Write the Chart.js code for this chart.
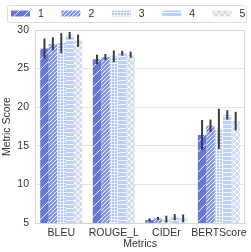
<!DOCTYPE html>
<html><head><meta charset="utf-8">
<script src="https://cdn.jsdelivr.net/npm/chart.js@4"></script>
<style>html,body{margin:0;padding:0;background:#fff}#wrap{width:251px;height:252px}</style>
</head><body><div id="wrap"><canvas id="c" width="251" height="252"></canvas></div>
<script>
const categories = ["BLEU", "ROUGE_L", "CIDEr", "BERTScore"];
const seriesNames = ["1", "2", "3", "4", "5"];
const s1 = [27.6, 26.2, 5.4, 16.4];
const s2 = [28.2, 26.5, 5.6, 17.6];
const s3 = [28.3, 26.6, 5.5, 17.2];
const s4 = [29.3, 27.0, 5.75, 19.0];
const s5 = [28.6, 26.8, 5.6, 18.2];
const e1 = [1.3, 0.6, 0.2, 1.95];
const e2 = [0.85, 0.4, 0.2, 0.8];
const e3 = [1.3, 0.75, 0.45, 2.6];
const e4 = [0.45, 0.3, 0.4, 0.6];
const e5 = [0.8, 0.4, 0.5, 1.2];
const yTicks = [5, 10, 15, 20, 25, 30];
const values = [s1, s2, s3, s4, s5];
const errors = [e1, e2, e3, e4, e5];

const baseColors = ["#6679d8", "#8399e6", "#b3c6f3", "#bdd0f5", "#d4dcea"];
const FONT = '"Liberation Sans", Arial, sans-serif';

function makePattern(base, kind) {
  const c = document.createElement('canvas');
  let w = 8, h = 8;
  if (kind === 'slash') { w = 10; h = 10; }
  if (kind === 'dense') { w = 4; h = 4; }
  if (kind === 'grid') { w = 3; h = 3; }
  if (kind === 'hline') { w = 4; h = 4; }
  if (kind === 'x') { w = 6; h = 6; }
  c.width = w; c.height = h;
  const g = c.getContext('2d');
  g.fillStyle = base; g.fillRect(0, 0, w, h);
  g.strokeStyle = 'rgba(255,255,255,0.85)';
  g.lineWidth = 1;
  if (kind === 'slash' || kind === 'dense') {
    g.beginPath();
    g.moveTo(-1, h + 1); g.lineTo(w + 1, -1);
    g.moveTo(-1 - w, h + 1); g.lineTo(1, -1);
    g.moveTo(w - 1, 2 * h + 1); g.lineTo(2 * w + 1, h - 1);
    g.stroke();
  } else if (kind === 'grid') {
    g.fillStyle = 'rgba(255,255,255,0.75)';
    g.fillRect(0, 0, w, 1); g.fillRect(0, 0, 1, h);
  } else if (kind === 'hline') {
    g.fillStyle = 'rgba(255,255,255,0.8)';
    g.fillRect(0, 0, w, 1);
  } else if (kind === 'x') {
    g.beginPath();
    g.moveTo(0, 0); g.lineTo(w, h);
    g.moveTo(0, h); g.lineTo(w, 0);
    g.stroke();
  }
  return g.createPattern(c, 'repeat');
}
const kinds = ['slash', 'dense', 'grid', 'hline', 'x'];
const patterns = baseColors.map((b, i) => makePattern(b, kinds[i]));

const errorBars = {
  id: 'errorBars',
  afterDatasetsDraw(chart) {
    const ctx = chart.ctx;
    const ys = chart.scales.y;
    ctx.save();
    ctx.strokeStyle = '#3c3c3c';
    ctx.lineWidth = 2;
    chart.data.datasets.forEach((ds, i) => {
      const meta = chart.getDatasetMeta(i);
      meta.data.forEach((el, j) => {
        const v = values[i][j], e = errors[i][j];
        ctx.beginPath();
        ctx.moveTo(el.x, ys.getPixelForValue(v + e));
        ctx.lineTo(el.x, ys.getPixelForValue(v - e));
        ctx.stroke();
      });
    });
    ctx.restore();
  }
};

const frameAndLegend = {
  id: 'frameAndLegend',
  afterDraw(chart) {
    const ctx = chart.ctx;
    const a = chart.chartArea;
    ctx.save();
    ctx.strokeStyle = '#d8d8d8';
    ctx.lineWidth = 1;
    ctx.strokeRect(Math.round(a.left) + 0.5, Math.round(a.top) + 0.5, Math.round(a.right - a.left) - 1, Math.round(a.bottom - a.top));
    const lx = 7.5, ly = 5.5, lw = 239, lh = 17;
    ctx.strokeStyle = '#dcdcdc';
    ctx.beginPath();
    if (ctx.roundRect) ctx.roundRect(lx, ly, lw, lh, 2); else ctx.rect(lx, ly, lw, lh);
    ctx.stroke();
    ctx.font = '10.5px ' + FONT;
    ctx.textBaseline = 'middle';
    chart.data.datasets.forEach((ds, i) => {
      const x = 11 + i * 50.4;
      ctx.fillStyle = ds.backgroundColor;
      ctx.fillRect(x, 10.5, 19, 6);
      ctx.fillStyle = '#333';
      ctx.fillText(ds.label, x + 27, 14);
    });
    ctx.restore();
  }
};

new Chart(document.getElementById('c'), {
  type: 'bar',
  data: {
    labels: categories,
    datasets: seriesNames.map((n, i) => ({
      label: n,
      data: values[i],
      backgroundColor: patterns[i],
      borderWidth: 0,
      categoryPercentage: 0.8,
      barPercentage: 1.0
    }))
  },
  options: {
    responsive: false,
    animation: false,
    devicePixelRatio: 1,
    layout: { padding: { top: 30, right: 4, left: 0, bottom: 0 } },
    plugins: { legend: { display: false }, tooltip: { enabled: false } },
    scales: {
      x: {
        afterFit(scale) { scale.height = 29; },
        grid: { display: false, drawTicks: false },
        border: { color: '#d8d8d8' },
        ticks: { color: '#333', font: { size: 10.5, family: FONT }, padding: 4, maxRotation: 0, autoSkip: false },
        title: { display: true, text: 'Metrics', color: '#333', font: { size: 10.5, family: FONT }, padding: { top: 0, bottom: 1.5 } }
      },
      y: {
        min: 5, max: 30,
        afterFit(scale) { scale.width = 35; },
        afterBuildTicks(scale) { scale.ticks = yTicks.map(v => ({ value: v })); },
        grid: { color: '#e4e4e4', drawTicks: false },
        border: { color: '#d8d8d8' },
        ticks: { color: '#333', font: { size: 10.5, family: FONT }, padding: 6 },
        title: { display: true, text: 'Metric Score', color: '#333', font: { size: 10.5, family: FONT }, padding: { top: 1, bottom: 0 } }
      }
    }
  },
  plugins: [errorBars, frameAndLegend]
});
</script></body></html>
